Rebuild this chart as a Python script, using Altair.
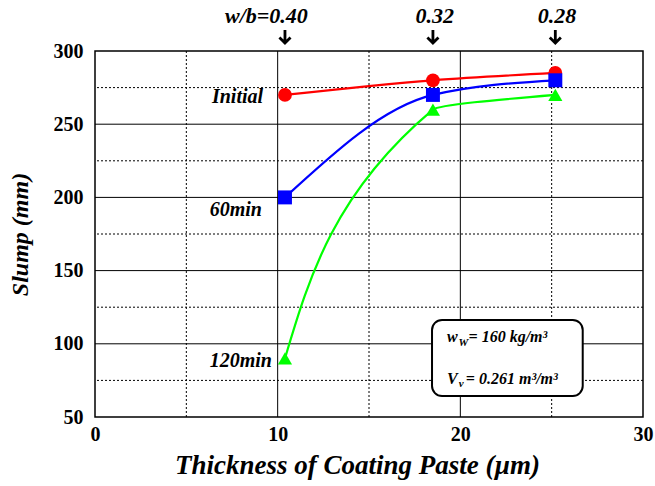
import altair as alt
import pandas as pd

# ---- data ----
thickness = [10.4, 18.5, 25.2]
slump_initial = [270, 280, 285]
slump_60 = [200, 270, 280]
slump_120 = [90, 260, 270]
series_names = ["Initial", "60min", "120min"]
series_colors = ["#FF0000", "#0000FF", "#00FF00"]
series_shapes = ["circle", "square", "triangle-up"]

# series labels (text, anchor x, baseline y)
label_x = [9.2, 9.14, 9.69]
label_y = [264.5, 187.3, 84.2]

# w/b labels over the top
wb_labels = ["w/b=0.40", "0.32", "0.28"]
wb_label_right = [11.65, 19.65, 26.35]

# grid
x_major = [10, 20]
x_minor = [5, 15, 25]
y_major = [100, 150, 200, 250]
y_minor = [75, 125, 175, 225, 275]

# info box
box_x = [18.45, 26.7]
box_y = [64.3, 116.3]
box_texts = ["w", "W", "= 160 kg/m³", "V", "v", " = 0.261 m³/m³"]
box_tx = [19.27, 19.9, 20.45, 19.27, 19.92, 20.3]
box_ty = [101.2, 98.8, 101.2, 72.5, 70.6, 72.5]
box_size = [16, 11, 16, 16, 11, 16]

FONT = "Liberation Serif"

rows = []
for name, vals in zip(series_names, [slump_initial, slump_60, slump_120]):
    for t, v in zip(thickness, vals):
        rows.append({"series": name, "x": t, "y": v})
df = pd.DataFrame(rows)

xs = alt.Scale(domain=[0, 30], nice=False, zero=False)
ys = alt.Scale(domain=[50, 300], nice=False, zero=False)
cscale = alt.Scale(domain=series_names, range=series_colors)
sscale = alt.Scale(domain=series_names, range=series_shapes)

X = alt.X("x:Q", scale=xs, axis=alt.Axis(
    values=[0, 10, 20, 30], format="d", grid=False, ticks=False, domain=False,
    labelFlush=False, labelFont=FONT, labelFontWeight="bold", labelFontSize=20,
    labelColor="black", labelPadding=7,
    title="Thickness of Coating Paste (µm)", titleFont=FONT, titleFontWeight="bold",
    titleFontStyle="italic", titleFontSize=27, titleColor="black", titlePadding=8,
    titleX=262))
Y = alt.Y("y:Q", scale=ys, axis=alt.Axis(
    values=[50, 100, 150, 200, 250, 300], grid=False, ticks=False, domain=False,
    labelFont=FONT, labelFontWeight="bold", labelFontSize=20, labelColor="black",
    labelPadding=12,
    title="Slump (mm)", titleFont=FONT, titleFontWeight="bold",
    titleFontStyle="italic", titleFontSize=24, titleColor="black", titlePadding=21))

gx_major = alt.Chart(pd.DataFrame({"x": x_major})).mark_rule(color="black", strokeWidth=1).encode(x=alt.X("x:Q", scale=xs))
gx_minor = alt.Chart(pd.DataFrame({"x": x_minor})).mark_rule(color="black", strokeWidth=1, strokeDash=[2, 2]).encode(x=alt.X("x:Q", scale=xs))
gy_major = alt.Chart(pd.DataFrame({"y": y_major})).mark_rule(color="black", strokeWidth=1).encode(y=alt.Y("y:Q", scale=ys))
gy_minor = alt.Chart(pd.DataFrame({"y": y_minor})).mark_rule(color="black", strokeWidth=1, strokeDash=[2, 2]).encode(y=alt.Y("y:Q", scale=ys))

# smooth curves: red & blue monotone along x, green monotone along y
line_red = alt.Chart(df[df.series == "Initial"]).mark_line(
    interpolate="monotone", strokeWidth=2.2, color=series_colors[0]).encode(x=X, y=Y)
line_blue = alt.Chart(df[df.series == "60min"]).mark_line(
    interpolate="monotone", strokeWidth=2.2, color=series_colors[1]).encode(x=X, y=Y)
line_green = alt.Chart(df[df.series == "120min"]).mark_area(
    interpolate="monotone", orient="horizontal", fill="transparent", fillOpacity=0,
    stroke=series_colors[2], strokeWidth=2.2).encode(
    x=alt.X("x:Q", scale=xs), x2="x:Q", y=alt.Y("y:Q", scale=ys))

pts = alt.Chart(df).mark_point(filled=True, opacity=1).encode(
    x=alt.X("x:Q", scale=xs), y=alt.Y("y:Q", scale=ys),
    color=alt.Color("series:N", scale=cscale, legend=None),
    shape=alt.Shape("series:N", scale=sscale, legend=None),
    size=alt.Size("series:N", scale=alt.Scale(domain=series_names, range=[190, 200, 130]), legend=None))

labels = alt.Chart(pd.DataFrame({"t": series_names, "x": label_x, "y": label_y})).mark_text(
    align="right", baseline="alphabetic", font=FONT, fontWeight="bold", fontStyle="italic",
    fontSize=20, color="black").encode(x=alt.X("x:Q", scale=xs), y=alt.Y("y:Q", scale=ys), text="t:N")

wb = alt.Chart(pd.DataFrame({"t": wb_labels, "x": wb_label_right})).mark_text(
    align="right", baseline="alphabetic", font=FONT, fontWeight="bold", fontStyle="italic",
    fontSize=22, color="black").encode(x=alt.X("x:Q", scale=xs), y=alt.value(-28), text="t:N")

arrow_path = "M0,-1L0,1M-0.85,0.15L0,1L0.85,0.15"
arrows = alt.Chart(pd.DataFrame({"x": thickness})).mark_point(
    shape=arrow_path, filled=False, color="black", strokeWidth=2.8, size=170, opacity=1,
    strokeJoin="miter").encode(x=alt.X("x:Q", scale=xs), y=alt.value(-14.5))

box = alt.Chart(pd.DataFrame({"x": [box_x[0]], "x2": [box_x[1]], "y": [box_y[0]], "y2": [box_y[1]]})).mark_rect(
    fill="white", stroke="black", strokeWidth=2, cornerRadius=10).encode(
    x=alt.X("x:Q", scale=xs), x2="x2:Q", y=alt.Y("y:Q", scale=ys), y2="y2:Q")

box_text = alt.Chart(pd.DataFrame({"t": box_texts, "x": box_tx, "y": box_ty, "s": box_size})).mark_text(
    align="left", baseline="alphabetic", font=FONT, fontWeight="bold", fontStyle="italic",
    color="black").encode(x=alt.X("x:Q", scale=xs), y=alt.Y("y:Q", scale=ys), text="t:N",
                          size=alt.Size("s:Q", scale=None, legend=None))

chart = alt.layer(gx_minor, gx_major, gy_minor, gy_major, box, box_text,
                  line_red, line_blue, line_green, pts, labels, wb, arrows).properties(
    width=548, height=366,
    autosize=alt.AutoSizeParams(type="none"),
    padding={"left": 95, "top": 51, "right": 12, "bottom": 69},
    background="white",
).configure_view(stroke="black", strokeWidth=1.5)

chart.save("out.html", embed_options={"renderer": "svg", "actions": False})
